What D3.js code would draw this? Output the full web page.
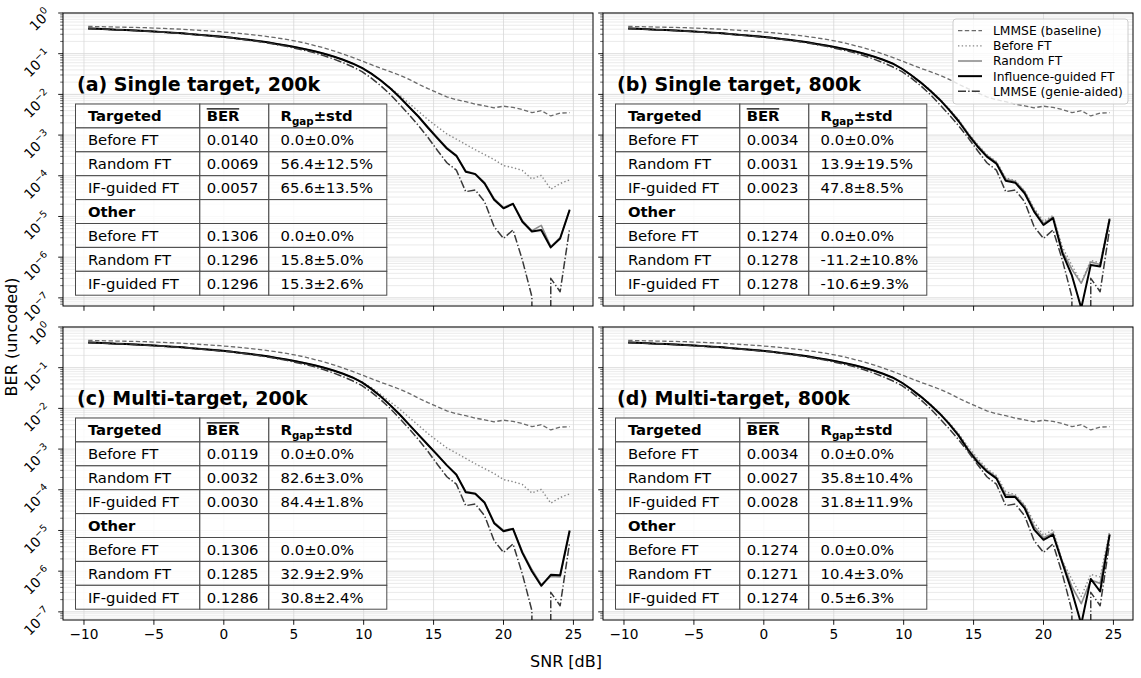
<!DOCTYPE html>
<html><head><meta charset="utf-8">
<script src="https://cdn.jsdelivr.net/npm/d3@7"></script>
<style>
body{margin:0;background:#fff}
svg{display:block}
text{font-family:"DejaVu Sans",sans-serif;fill:#000}
</style>
</head><body>
<svg id="chart" width="1141" height="678"></svg>
<script>
// ---------------- DATA ----------------
const snrDb = [-9.70,-9.03,-8.35,-7.68,-7.00,-6.33,-5.65,-4.98,-4.30,-3.63,-2.95,-2.28,-1.60,-0.93,-0.25,0.43,1.10,1.78,2.45,3.13,3.80,4.48,5.15,5.83,6.50,7.18,7.85,8.53,9.20,9.88,10.55,11.23,11.90,12.58,13.25,13.93,14.60,15.28,15.95,16.63,17.30,17.98,18.65,19.33,20.00,20.68,21.35,22.03,22.70,23.38,24.05,24.73];

// BER values given as log10(BER); null = zero errors
const lmmseBaselineLog = [-0.33,-0.335,-0.34,-0.345,-0.35,-0.355,-0.36,-0.37,-0.38,-0.39,-0.40,-0.415,-0.43,-0.445,-0.46,-0.48,-0.50,-0.525,-0.55,-0.58,-0.61,-0.65,-0.69,-0.74,-0.80,-0.86,-0.93,-1.01,-1.09,-1.18,-1.27,-1.36,-1.44,-1.53,-1.63,-1.75,-1.86,-1.96,-2.06,-2.13,-2.18,-2.24,-2.28,-2.33,-2.29,-2.32,-2.37,-2.45,-2.40,-2.53,-2.46,-2.45];
const lmmseGenieLog = [-0.38,-0.39,-0.40,-0.41,-0.42,-0.43,-0.445,-0.46,-0.475,-0.49,-0.505,-0.525,-0.545,-0.565,-0.59,-0.61,-0.64,-0.67,-0.70,-0.74,-0.78,-0.82,-0.87,-0.92,-0.98,-1.05,-1.13,-1.22,-1.32,-1.44,-1.60,-1.79,-2.00,-2.25,-2.50,-2.77,-3.06,-3.38,-3.68,-3.86,-4.39,-4.35,-4.64,-5.25,-5.54,-5.33,-6.07,-6.97,null,-6.52,-6.85,-5.29];

const beforeFT200Log = [-0.38,-0.39,-0.40,-0.41,-0.42,-0.43,-0.44,-0.455,-0.47,-0.485,-0.50,-0.52,-0.54,-0.56,-0.58,-0.60,-0.63,-0.66,-0.69,-0.72,-0.76,-0.80,-0.84,-0.89,-0.94,-1.00,-1.07,-1.15,-1.24,-1.35,-1.49,-1.66,-1.84,-2.02,-2.22,-2.42,-2.62,-2.80,-2.97,-3.10,-3.23,-3.36,-3.48,-3.60,-3.75,-3.80,-3.87,-4.08,-3.99,-4.33,-4.19,-4.10];
const beforeFT800Log = [-0.38,-0.39,-0.40,-0.41,-0.42,-0.43,-0.44,-0.455,-0.47,-0.485,-0.50,-0.52,-0.54,-0.56,-0.58,-0.60,-0.63,-0.66,-0.69,-0.72,-0.76,-0.80,-0.84,-0.89,-0.94,-1.00,-1.07,-1.15,-1.24,-1.37,-1.52,-1.70,-1.89,-2.11,-2.35,-2.62,-2.94,-3.23,-3.48,-3.65,-4.05,-4.12,-4.37,-4.80,-5.12,-4.98,-5.75,-6.20,-6.62,-6.08,-6.14,-5.02];

const randomFT_A_Log = [-0.38,-0.39,-0.40,-0.41,-0.42,-0.43,-0.44,-0.455,-0.47,-0.485,-0.50,-0.52,-0.54,-0.56,-0.58,-0.60,-0.63,-0.66,-0.69,-0.72,-0.76,-0.80,-0.84,-0.89,-0.94,-1.00,-1.07,-1.15,-1.24,-1.35,-1.49,-1.66,-1.85,-2.07,-2.31,-2.55,-2.80,-3.06,-3.31,-3.50,-3.88,-3.95,-4.17,-4.56,-4.78,-4.68,-5.10,-5.35,-5.22,-5.74,-5.52,-4.82];
const ifFT_A_Log = [-0.38,-0.39,-0.40,-0.41,-0.42,-0.43,-0.44,-0.455,-0.47,-0.485,-0.50,-0.52,-0.54,-0.56,-0.58,-0.60,-0.63,-0.66,-0.69,-0.72,-0.76,-0.80,-0.84,-0.89,-0.94,-1.00,-1.07,-1.15,-1.24,-1.35,-1.49,-1.66,-1.85,-2.07,-2.31,-2.55,-2.82,-3.08,-3.33,-3.51,-3.90,-3.96,-4.19,-4.59,-4.80,-4.69,-5.13,-5.37,-5.33,-5.76,-5.54,-4.84];

const randomFT_B_Log = [-0.38,-0.39,-0.40,-0.41,-0.42,-0.43,-0.44,-0.455,-0.47,-0.485,-0.50,-0.52,-0.54,-0.56,-0.58,-0.60,-0.63,-0.66,-0.69,-0.72,-0.76,-0.80,-0.84,-0.89,-0.94,-1.00,-1.07,-1.15,-1.24,-1.37,-1.53,-1.71,-1.90,-2.12,-2.37,-2.64,-2.96,-3.25,-3.50,-3.67,-4.08,-4.14,-4.39,-4.84,-5.17,-5.01,-5.85,-6.30,-6.64,-6.12,-6.18,-5.04];
const ifFT_B_Log = [-0.38,-0.39,-0.40,-0.41,-0.42,-0.43,-0.44,-0.455,-0.47,-0.485,-0.50,-0.52,-0.54,-0.56,-0.58,-0.60,-0.63,-0.66,-0.69,-0.72,-0.76,-0.80,-0.84,-0.89,-0.94,-1.00,-1.07,-1.15,-1.24,-1.37,-1.53,-1.71,-1.91,-2.13,-2.38,-2.66,-2.98,-3.28,-3.53,-3.70,-4.12,-4.17,-4.43,-4.88,-5.21,-5.04,-5.90,-6.45,-7.25,-6.19,-6.23,-5.07];

const randomFT_C_Log = [-0.38,-0.39,-0.40,-0.41,-0.42,-0.43,-0.44,-0.455,-0.47,-0.485,-0.50,-0.52,-0.54,-0.56,-0.58,-0.60,-0.63,-0.66,-0.69,-0.72,-0.76,-0.80,-0.84,-0.89,-0.94,-1.00,-1.07,-1.15,-1.24,-1.36,-1.52,-1.71,-1.92,-2.15,-2.40,-2.65,-2.89,-3.14,-3.39,-3.62,-4.04,-4.09,-4.30,-4.80,-5.00,-4.95,-5.52,-5.96,-6.33,-6.13,-6.14,-5.03];
const ifFT_C_Log = [-0.38,-0.39,-0.40,-0.41,-0.42,-0.43,-0.44,-0.455,-0.47,-0.485,-0.50,-0.52,-0.54,-0.56,-0.58,-0.60,-0.63,-0.66,-0.69,-0.72,-0.76,-0.80,-0.84,-0.89,-0.94,-1.00,-1.07,-1.15,-1.24,-1.36,-1.52,-1.71,-1.92,-2.15,-2.40,-2.65,-2.90,-3.15,-3.40,-3.63,-4.06,-4.10,-4.32,-4.82,-5.02,-4.96,-5.55,-6.00,-6.36,-6.09,-6.10,-5.00];

const randomFT_D_Log = [-0.38,-0.39,-0.40,-0.41,-0.42,-0.43,-0.44,-0.455,-0.47,-0.485,-0.50,-0.52,-0.54,-0.56,-0.58,-0.60,-0.63,-0.66,-0.69,-0.72,-0.76,-0.80,-0.84,-0.89,-0.94,-1.00,-1.07,-1.15,-1.24,-1.37,-1.53,-1.71,-1.90,-2.12,-2.37,-2.65,-2.99,-3.28,-3.52,-3.69,-4.12,-4.15,-4.40,-4.90,-5.18,-5.06,-5.76,-6.38,-6.80,-6.22,-6.30,-5.08];
const ifFT_D_Log = [-0.38,-0.39,-0.40,-0.41,-0.42,-0.43,-0.44,-0.455,-0.47,-0.485,-0.50,-0.52,-0.54,-0.56,-0.58,-0.60,-0.63,-0.66,-0.69,-0.72,-0.76,-0.80,-0.84,-0.89,-0.94,-1.00,-1.07,-1.15,-1.24,-1.37,-1.53,-1.71,-1.91,-2.13,-2.38,-2.67,-3.02,-3.32,-3.55,-3.72,-4.18,-4.18,-4.45,-4.98,-5.23,-5.10,-5.80,-6.50,-7.30,-6.19,-6.50,-5.10];

const xTickValues = [-10,-5,0,5,10,15,20,25];
const yTickExponents = [0,-1,-2,-3,-4,-5,-6,-7];

const panelTitles = ["(a) Single target, 200k","(b) Single target, 800k","(c) Multi-target, 200k","(d) Multi-target, 800k"];
const tableRowLabels = ["Targeted","Before FT","Random FT","IF-guided FT","Other","Before FT","Random FT","IF-guided FT"];
const berA = ["0.0140","0.0069","0.0057","0.1306","0.1296","0.1296"];
const rgapA = ["0.0±0.0%","56.4±12.5%","65.6±13.5%","0.0±0.0%","15.8±5.0%","15.3±2.6%"];
const berB = ["0.0034","0.0031","0.0023","0.1274","0.1278","0.1278"];
const rgapB = ["0.0±0.0%","13.9±19.5%","47.8±8.5%","0.0±0.0%","-11.2±10.8%","-10.6±9.3%"];
const berC = ["0.0119","0.0032","0.0030","0.1306","0.1285","0.1286"];
const rgapC = ["0.0±0.0%","82.6±3.0%","84.4±1.8%","0.0±0.0%","32.9±2.9%","30.8±2.4%"];
const berD = ["0.0034","0.0027","0.0028","0.1274","0.1271","0.1274"];
const rgapD = ["0.0±0.0%","35.8±10.4%","31.8±11.9%","0.0±0.0%","10.4±3.0%","0.5±6.3%"];

const legendLabels = ["LMMSE (baseline)","Before FT","Random FT","Influence-guided FT","LMMSE (genie-aided)"];

// ---------------- LAYOUT / STYLE ----------------
const PW = 530, PH = 293;
const panels = [
  {left:63, top:13, title:panelTitles[0], before:beforeFT200Log, random:randomFT_A_Log, inf:ifFT_A_Log, ber:berA, rgap:rgapA, yLabels:true, xLabels:false, legend:false},
  {left:603, top:13, title:panelTitles[1], before:beforeFT800Log, random:randomFT_B_Log, inf:ifFT_B_Log, ber:berB, rgap:rgapB, yLabels:false, xLabels:false, legend:true},
  {left:63, top:327, title:panelTitles[2], before:beforeFT200Log, random:randomFT_C_Log, inf:ifFT_C_Log, ber:berC, rgap:rgapC, yLabels:true, xLabels:true, legend:false},
  {left:603, top:327, title:panelTitles[3], before:beforeFT800Log, random:randomFT_D_Log, inf:ifFT_D_Log, ber:berD, rgap:rgapD, yLabels:false, xLabels:true, legend:false}
];

const styles = [
  {key:"baseline", stroke:"#6a6a6a", width:1.3, dash:"4.4,2.4"},
  {key:"before",   stroke:"#888888", width:1.4, dash:"1.4,2.3"},
  {key:"random",   stroke:"#8c8c8c", width:1.6, dash:null},
  {key:"inf",      stroke:"#000000", width:2.0, dash:null},
  {key:"genie",    stroke:"#383838", width:1.5, dash:"8,2.2,1.4,2.2"}
];

const svg = d3.select("#chart");
svg.append("rect").attr("width",1141).attr("height",678).attr("fill","#fff");

const x = d3.scaleLinear().domain([-11.5, 26.4]).range([0, PW]);
const y = d3.scaleLog().domain([Math.pow(10,-7.2), 1]).range([PH, 0]);
const yPos = v => v === null ? PH + 30000 : y(Math.pow(10, v));

const line = d3.line().x((d,i)=>x(snrDb[i])).y(d=>yPos(d));

panels.forEach((p, pi) => {
  const g = svg.append("g").attr("transform",`translate(${p.left},${p.top})`);
  g.append("rect").attr("width",PW).attr("height",PH).attr("fill","#fff");
  const clipId = "clip"+pi;
  g.append("clipPath").attr("id",clipId).append("rect").attr("width",PW).attr("height",PH);

  // minor y grid
  const minorVals = [];
  for (let e=-8; e<=-1; e++) for (let m=2; m<=9; m++) {
    const v = m*Math.pow(10,e);
    if (v > Math.pow(10,-7.2) && v < 1) minorVals.push(v);
  }
  g.append("g").selectAll("line").data(minorVals).join("line")
    .attr("x1",0).attr("x2",PW).attr("y1",d=>y(d)).attr("y2",d=>y(d))
    .attr("stroke","#e3e3e3").attr("stroke-width",0.7);
  // major grid
  g.append("g").selectAll("line").data(yTickExponents).join("line")
    .attr("x1",0).attr("x2",PW).attr("y1",d=>y(Math.pow(10,d))).attr("y2",d=>y(Math.pow(10,d)))
    .attr("stroke","#d2d2d2").attr("stroke-width",0.8);
  g.append("g").selectAll("line").data(xTickValues).join("line")
    .attr("y1",0).attr("y2",PH).attr("x1",d=>x(d)).attr("x2",d=>x(d))
    .attr("stroke","#d8d8d8").attr("stroke-width",0.8);

  // curves
  const series = {baseline:lmmseBaselineLog, before:p.before, random:p.random, inf:p.inf, genie:lmmseGenieLog};
  const cg = g.append("g").attr("clip-path",`url(#${clipId})`);
  styles.forEach(s => {
    cg.append("path").datum(series[s.key]).attr("d",line)
      .attr("fill","none").attr("stroke",s.stroke).attr("stroke-width",s.width)
      .attr("stroke-dasharray",s.dash).attr("stroke-linejoin","round");
  });

  // spines
  g.append("rect").attr("width",PW).attr("height",PH).attr("fill","none").attr("stroke","#000").attr("stroke-width",1);

  // x ticks
  g.append("g").selectAll("line").data(xTickValues).join("line")
    .attr("x1",d=>x(d)).attr("x2",d=>x(d)).attr("y1",PH).attr("y2",PH+4.8)
    .attr("stroke","#000").attr("stroke-width",0.9);
  if (p.xLabels) {
    g.append("g").selectAll("text").data(xTickValues).join("text")
      .attr("x",d=>x(d)).attr("y",PH+19).attr("text-anchor","middle")
      .attr("font-size","13.7px")
      .text(d => d < 0 ? "\u2212"+Math.abs(d) : String(d));
  }
  // y ticks
  g.append("g").selectAll("line").data(yTickExponents).join("line")
    .attr("x1",-4.8).attr("x2",0).attr("y1",d=>y(Math.pow(10,d))).attr("y2",d=>y(Math.pow(10,d)))
    .attr("stroke","#000").attr("stroke-width",0.9);
  g.append("g").selectAll("line").data(minorVals).join("line")
    .attr("x1",-2.8).attr("x2",0).attr("y1",d=>y(d)).attr("y2",d=>y(d))
    .attr("stroke","#000").attr("stroke-width",0.6);
  if (p.yLabels) {
    yTickExponents.forEach(e => {
      const t = g.append("text")
        .attr("transform",`translate(-11,${y(Math.pow(10,e))+2}) rotate(-45)`)
        .attr("text-anchor","end").attr("font-size","13.7px");
      t.append("tspan").text("10");
      t.append("tspan").attr("font-size","9.6px").attr("dy","-6").text(e===0 ? "0" : "\u2212"+Math.abs(e));
    });
  }

  // title
  g.append("text").attr("x",14).attr("y",78).attr("font-size","19px").attr("font-weight","bold").text(p.title);

  // table
  const colW = [124.3, 69, 118];
  const colPad = [12.4, 6.9, 11.8];
  const colX = [0, colW[0], colW[0]+colW[1]];
  const rowH = 23.9;
  const tg = g.append("g").attr("transform",`translate(12.5,91)`);
  const fs = "14.8px";
  for (let r=0; r<8; r++) {
    for (let c=0; c<3; c++) {
      tg.append("rect").attr("x",colX[c]).attr("y",r*rowH).attr("width",colW[c]).attr("height",rowH)
        .attr("fill","#fff").attr("fill-opacity",0.82).attr("stroke","#4a4a4a").attr("stroke-width",1);
    }
  }
  for (let r=0; r<8; r++) {
    const by = r*rowH + rowH/2 + 5.3;
    const bold = (r===0 || r===4);
    tg.append("text").attr("x",colX[0]+colPad[0]).attr("y",by).attr("font-size",fs)
      .attr("font-weight", bold ? "bold" : "normal").text(tableRowLabels[r]);
    if (r===0) {
      tg.append("text").attr("x",colX[1]+colPad[1]).attr("y",by).attr("font-size",fs).attr("font-weight","bold").text("BER");
      tg.append("line").attr("x1",colX[1]+colPad[1]).attr("x2",colX[1]+colPad[1]+32.5)
        .attr("y1",by-12.3).attr("y2",by-12.3).attr("stroke","#000").attr("stroke-width",1.3);
      const rt = tg.append("text").attr("x",colX[2]+colPad[2]).attr("y",by).attr("font-size",fs).attr("font-weight","bold");
      rt.append("tspan").text("R");
      rt.append("tspan").attr("font-size","10.3px").attr("dy","3.5").text("gap");
      rt.append("tspan").attr("dy","-3.5").text("±std");
    } else if (r!==4) {
      const di = r < 4 ? r-1 : r-2;
      tg.append("text").attr("x",colX[1]+colPad[1]).attr("y",by).attr("font-size",fs).text(p.ber[di]);
      tg.append("text").attr("x",colX[2]+colPad[2]).attr("y",by).attr("font-size",fs).text(p.rgap[di]);
    }
  }

  // legend
  if (p.legend) {
    const lg = g.append("g").attr("transform","translate(350,6)");
    lg.append("rect").attr("width",175).attr("height",85).attr("rx",3)
      .attr("fill","#fff").attr("fill-opacity",0.8).attr("stroke","#cccccc").attr("stroke-width",1);
    legendLabels.forEach((lab,i) => {
      const cy = 11.7 + i*15.15;
      const s = styles[i];
      lg.append("line").attr("x1",5).attr("x2",29).attr("y1",cy).attr("y2",cy)
        .attr("stroke",s.stroke).attr("stroke-width",s.width).attr("stroke-dasharray",s.dash);
      lg.append("text").attr("x",40).attr("y",cy+4.4).attr("font-size","12.3px").text(lab);
    });
  }
});

// axis labels
svg.append("text").attr("x",566).attr("y",667).attr("text-anchor","middle").attr("font-size","16px").text("SNR [dB]");
svg.append("text").attr("transform","translate(17,337) rotate(-90)").attr("text-anchor","middle").attr("font-size","16px").text("BER (uncoded)");
</script>
</body></html>
